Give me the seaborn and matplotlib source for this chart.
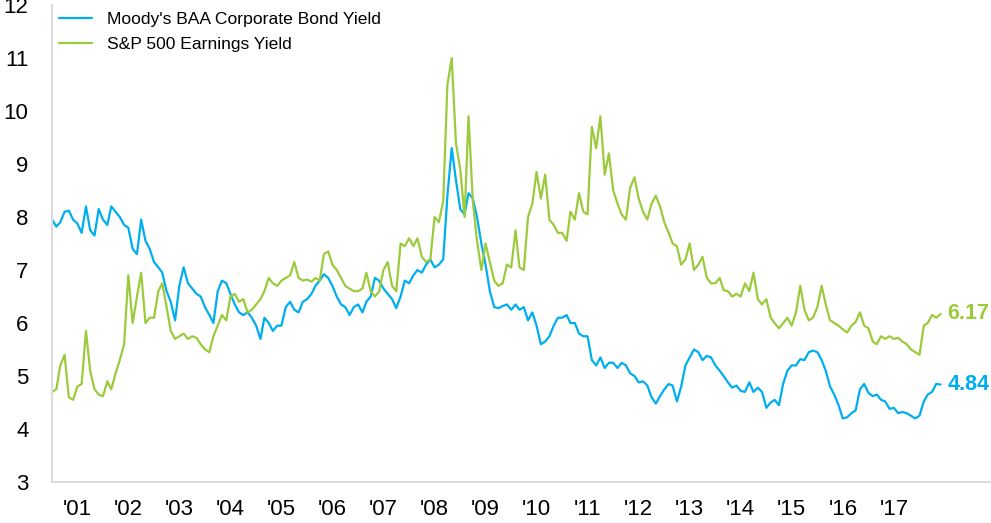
import matplotlib
matplotlib.use("Agg")
import matplotlib.pyplot as plt
import pandas as pd
import seaborn as sns

# monthly readings, Jan 2001 .. Jun 2018
baa_yield = [
    7.95, 7.82, 7.9, 8.1, 8.12, 7.95, 7.88, 7.7, 8.2, 7.75, 7.65, 8.15,    # 2001
    7.95, 7.85, 8.2, 8.1, 8.0, 7.85, 7.8, 7.4, 7.3, 7.95, 7.55, 7.4,       # 2002
    7.15, 7.05, 6.95, 6.6, 6.4, 6.05, 6.7, 7.05, 6.75, 6.65, 6.55, 6.5,    # 2003
    6.3, 6.15, 6.0, 6.6, 6.8, 6.75, 6.55, 6.35, 6.2, 6.15, 6.2, 6.1,       # 2004
    5.95, 5.7, 6.1, 6.0, 5.85, 5.95, 5.95, 6.3, 6.4, 6.25, 6.2, 6.4,       # 2005
    6.45, 6.55, 6.7, 6.8, 6.92, 6.85, 6.7, 6.5, 6.35, 6.3, 6.15, 6.3,      # 2006
    6.35, 6.2, 6.4, 6.5, 6.85, 6.8, 6.65, 6.55, 6.45, 6.28, 6.5, 6.8,      # 2007
    6.75, 6.9, 7.0, 6.95, 7.1, 7.2, 7.05, 7.1, 7.2, 8.4, 9.3, 8.7,         # 2008
    8.15, 8.05, 8.45, 8.35, 8.0, 7.5, 7.1, 6.6, 6.3, 6.28, 6.32, 6.35,     # 2009
    6.25, 6.35, 6.25, 6.3, 6.05, 6.2, 5.95, 5.6, 5.65, 5.75, 5.95, 6.1,    # 2010
    6.1, 6.15, 6.0, 6.0, 5.8, 5.75, 5.75, 5.3, 5.2, 5.35, 5.15, 5.25,      # 2011
    5.25, 5.15, 5.25, 5.2, 5.05, 5.0, 4.88, 4.9, 4.82, 4.6, 4.48, 4.62,    # 2012
    4.75, 4.85, 4.82, 4.52, 4.8, 5.2, 5.35, 5.5, 5.45, 5.3, 5.38, 5.35,    # 2013
    5.2, 5.1, 5.0, 4.88, 4.78, 4.82, 4.72, 4.7, 4.88, 4.7, 4.78, 4.7,      # 2014
    4.4, 4.5, 4.55, 4.45, 4.85, 5.1, 5.2, 5.2, 5.32, 5.3, 5.45, 5.48,      # 2015
    5.45, 5.3, 5.1, 4.8, 4.65, 4.45, 4.2, 4.22, 4.3, 4.35, 4.75, 4.85,     # 2016
    4.68, 4.62, 4.65, 4.55, 4.52, 4.38, 4.4, 4.3, 4.32, 4.3, 4.25, 4.2,    # 2017
    4.25, 4.52, 4.65, 4.7, 4.85, 4.84,                                     # 2018
]

spx_earnings_yield = [
    4.7, 4.75, 5.2, 5.4, 4.6, 4.55, 4.8, 4.85, 5.85, 5.1, 4.75, 4.65,      # 2001
    4.62, 4.9, 4.75, 5.05, 5.3, 5.6, 6.9, 6.0, 6.5, 6.95, 6.0, 6.1,        # 2002
    6.1, 6.6, 6.75, 6.3, 5.85, 5.7, 5.75, 5.8, 5.7, 5.75, 5.72, 5.6,       # 2003
    5.5, 5.45, 5.75, 5.95, 6.15, 6.05, 6.5, 6.55, 6.4, 6.45, 6.2, 6.25,    # 2004
    6.35, 6.45, 6.6, 6.85, 6.75, 6.7, 6.8, 6.85, 6.9, 7.15, 6.85, 6.8,     # 2005
    6.82, 6.78, 6.85, 6.8, 7.3, 7.35, 7.1, 7.0, 6.85, 6.7, 6.65, 6.6,      # 2006
    6.6, 6.65, 6.95, 6.6, 6.5, 6.6, 7.0, 7.15, 6.7, 6.6, 7.5, 7.45,        # 2007
    7.6, 7.45, 7.6, 7.25, 7.15, 7.2, 8.0, 7.9, 8.3, 10.5, 11.0, 9.4,       # 2008
    8.9, 8.0, 9.9, 8.3, 7.55, 7.0, 7.5, 7.15, 6.8, 6.7, 6.75, 7.1,         # 2009
    7.05, 7.75, 7.05, 7.0, 8.0, 8.25, 8.85, 8.35, 8.8, 7.95, 7.85, 7.7,    # 2010
    7.7, 7.55, 8.1, 7.95, 8.45, 8.1, 8.05, 9.7, 9.3, 9.9, 8.8, 9.2,        # 2011
    8.5, 8.25, 8.05, 7.95, 8.55, 8.75, 8.35, 8.1, 7.95, 8.25, 8.4, 8.2,    # 2012
    7.9, 7.7, 7.5, 7.45, 7.1, 7.2, 7.5, 7.0, 7.1, 7.25, 6.85, 6.75,        # 2013
    6.75, 6.85, 6.62, 6.6, 6.5, 6.55, 6.5, 6.75, 6.6, 6.95, 6.45, 6.35,    # 2014
    6.45, 6.1, 6.0, 5.9, 6.0, 6.1, 5.95, 6.2, 6.7, 6.25, 6.05, 6.1,        # 2015
    6.3, 6.7, 6.35, 6.05, 6.0, 5.95, 5.88, 5.82, 5.95, 6.02, 6.2, 5.95,    # 2016
    5.9, 5.65, 5.6, 5.75, 5.7, 5.75, 5.7, 5.72, 5.65, 5.6, 5.5, 5.45,      # 2017
    5.4, 5.95, 6.0, 6.15, 6.1, 6.17,                                       # 2018
]

series_names = ["Moody's BAA Corporate Bond Yield", "S&P 500 Earnings Yield"]
series_colors = ["#00aeef", "#9bcb3c"]
year_labels = ["'%02d" % y for y in range(1, 18)]


def main():
    dates = pd.date_range("2001-01-01", periods=len(baa_yield), freq="MS")
    df = pd.concat([
        pd.DataFrame({"date": dates, "value": baa_yield, "series": series_names[0]}),
        pd.DataFrame({"date": dates, "value": spx_earnings_yield, "series": series_names[1]}),
    ])

    sns.set_style("white")
    plt.rcParams["font.family"] = ["Liberation Sans", "DejaVu Sans"]
    plt.rcParams["text.color"] = "black"
    plt.rcParams["xtick.labelcolor"] = "black"
    plt.rcParams["ytick.labelcolor"] = "black"

    fig = plt.figure(figsize=(9.91, 5.23), dpi=100)
    ax = fig.add_axes([0.0525, 0.0784, 0.9475, 0.912])
    sns.lineplot(data=df, x="date", y="value", hue="series",
                 palette=dict(zip(series_names, series_colors)),
                 linewidth=1.6, ax=ax)

    # end labels
    for vals, color in zip([spx_earnings_yield, baa_yield], series_colors[::-1]):
        ax.annotate("%.2f" % vals[-1], (dates[-1], vals[-1]), xytext=(5, 0),
                    textcoords="offset points", va="center", ha="left",
                    color=color, fontsize=15.5, fontweight="bold")

    ax.set_ylim(3, 12)
    ax.set_xlim(pd.Timestamp("2001-01-01"), pd.Timestamp("2019-05-28"))
    ax.set_yticks(range(3, 13))

    # year boundaries get tick marks, labels sit mid-year
    ax.set_xticks([pd.Timestamp("%d-01-01" % y) for y in range(2001, 2019)])
    ax.set_xticklabels([])
    ax.set_xticks([pd.Timestamp("%d-07-02" % y) for y in range(2001, 2018)], minor=True)
    ax.set_xticklabels(year_labels, minor=True)

    ax.tick_params(axis="x", which="major", length=12, width=1.5, color="#dcdcdc", direction="out")
    ax.tick_params(axis="x", which="minor", length=0, pad=12, labelsize=16)
    ax.tick_params(axis="y", length=12, width=1.5, color="#dcdcdc", labelsize=16, pad=5)

    for side in ["top", "right"]:
        ax.spines[side].set_visible(False)
    for side in ["left", "bottom"]:
        ax.spines[side].set_color("#dcdcdc")
        ax.spines[side].set_linewidth(1.5)

    ax.set_xlabel("")
    ax.set_ylabel("")
    ax.legend(loc="upper left", bbox_to_anchor=(-0.008, 1.016), frameon=False,
              fontsize=12.6, handlelength=1.9, handletextpad=0.85, labelspacing=0.6,
              borderpad=0.3)

    fig.savefig("out.png", dpi=100)


if __name__ == "__main__":
    main()
